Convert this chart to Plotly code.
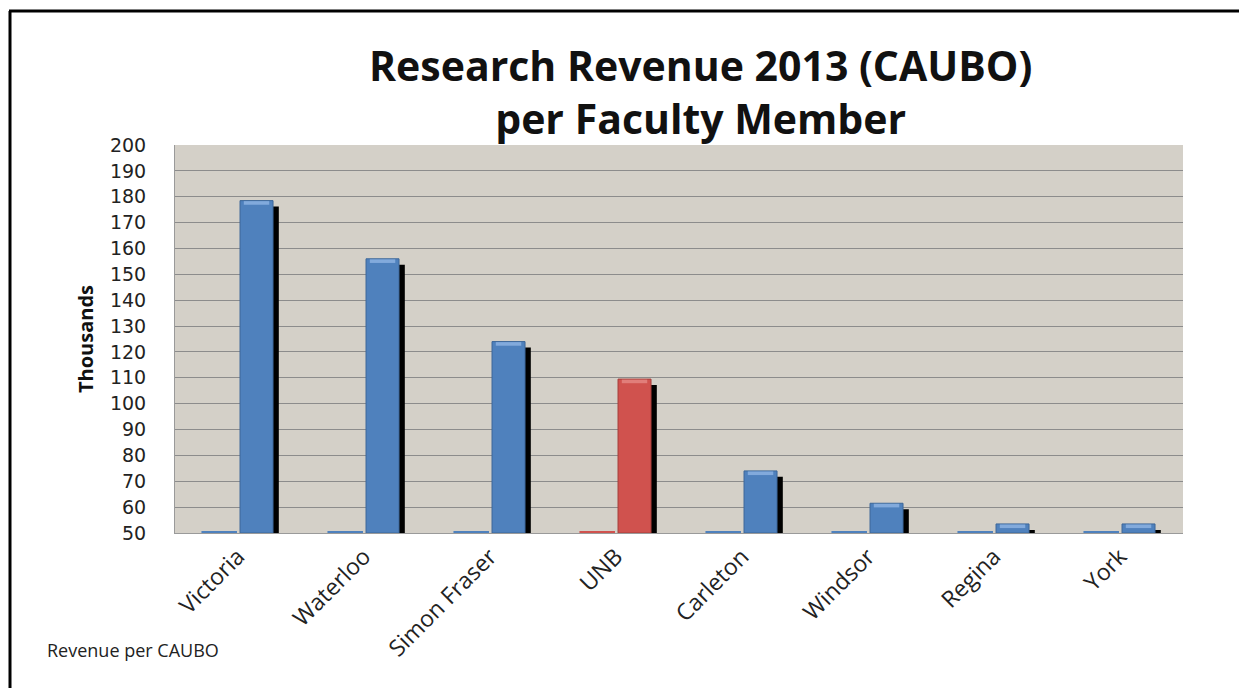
import plotly.graph_objects as go

categories = ["Victoria", "Waterloo", "Simon Fraser", "UNB", "Carleton", "Windsor", "Regina", "York"]
revenue_per_faculty = [178.5, 156.0, 124.0, 109.5, 74.0, 61.5, 53.5, 53.5]
other_series = [50.6, 50.6, 50.6, 50.6, 50.6, 50.6, 50.6, 50.6]
highlight = "UNB"
y_ticks = list(range(50, 201, 10))

BLUE = "#4F81BD"
BLUE_EDGE = "#3C6799"
RED = "#D0524E"
RED_EDGE = "#A43E3B"

main_colors = [RED if c == highlight else BLUE for c in categories]
edge_colors = [RED_EDGE if c == highlight else BLUE_EDGE for c in categories]
cap_colors = ["#E58A86" if c == highlight else "#8EB4E3" for c in categories]

# page has an 8px body margin; screen coords -> paper coords
PX0, PX1, PY0, PY1 = 175, 1183, 145, 533
def px(x):
    return (x - PX0) / (PX1 - PX0)
def py(y):
    return 1 - (y - PY0) / (PY1 - PY0)

BAR_W = 0.262
fig = go.Figure()

fig.add_trace(go.Bar(
    x=categories, y=[v - 50 for v in other_series], base=50,
    width=BAR_W + 0.02, offset=-0.29,
    marker=dict(color=main_colors, line=dict(width=0)),
    hoverinfo="skip", showlegend=False))

fig.add_trace(go.Bar(
    x=categories, y=[v - 50 - 2.3 for v in revenue_per_faculty], base=50,
    width=BAR_W, offset=0.062,
    marker=dict(color="#000000", line=dict(width=0)),
    hoverinfo="skip", showlegend=False))

fig.add_trace(go.Bar(
    x=categories, y=[v - 50 for v in revenue_per_faculty], base=50,
    width=BAR_W, offset=0.016,
    marker=dict(color=main_colors, line=dict(width=1, color=edge_colors)),
    showlegend=False))

fig.add_trace(go.Bar(
    x=categories, y=[1.4] * len(categories),
    base=[v - 1.6 for v in revenue_per_faculty],
    width=BAR_W - 0.06, offset=0.046,
    marker=dict(color=cap_colors, line=dict(width=0), opacity=0.8),
    hoverinfo="skip", showlegend=False))

fig.update_layout(
    width=1239, height=680,
    barmode="overlay",
    paper_bgcolor="white",
    plot_bgcolor="#D4D0C8",
    margin=dict(l=167, r=64, t=137, b=155),
    font=dict(family="Open Sans", color="#222222"),
    xaxis=dict(
        type="category", categoryorder="array", categoryarray=categories,
        tickangle=-45, tickfont=dict(size=23, family="Open Sans", color="#222222"),
        showgrid=False, showline=True, linecolor="#9A9A9A", linewidth=1,
        ticks="", ticklabelstandoff=0, range=[-0.5, len(categories) - 0.5]),
    yaxis=dict(
        range=[50, 200], tickvals=y_ticks, ticktext=[str(t) for t in y_ticks],
        tickfont=dict(size=19, family="DejaVu Sans", color="#222222"),
        showgrid=True, gridcolor="#8C8C8C", gridwidth=1,
        showline=True, linecolor="#9A9A9A", linewidth=1, ticks="",
        zeroline=False, ticklabelstandoff=24,
        title=dict(text="<b>Thousands</b>", font=dict(size=20, family="Open Sans", color="#111111"), standoff=10)),
    annotations=[
        dict(text="<b>Research Revenue 2013 (CAUBO)<br>per Faculty Member</b>",
             xref="paper", yref="paper", x=px(700), y=py(91), xanchor="center", yanchor="middle",
             showarrow=False, font=dict(size=41, family="Open Sans", color="#111111"), align="center"),
        dict(text="Revenue per CAUBO", xref="paper", yref="paper",
             x=px(45), y=py(650), xanchor="left", yanchor="middle",
             showarrow=False, font=dict(size=18, family="Open Sans", color="#222222")),
    ],
    shapes=[
        dict(type="line", xref="paper", yref="paper", x0=px(9), x1=px(1260),
             y0=py(11), y1=py(11), line=dict(color="black", width=3)),
        dict(type="line", xref="paper", yref="paper", x0=px(10), x1=px(10),
             y0=py(11), y1=py(700), line=dict(color="black", width=3)),
    ],
)

fig.write_html("out.html")
